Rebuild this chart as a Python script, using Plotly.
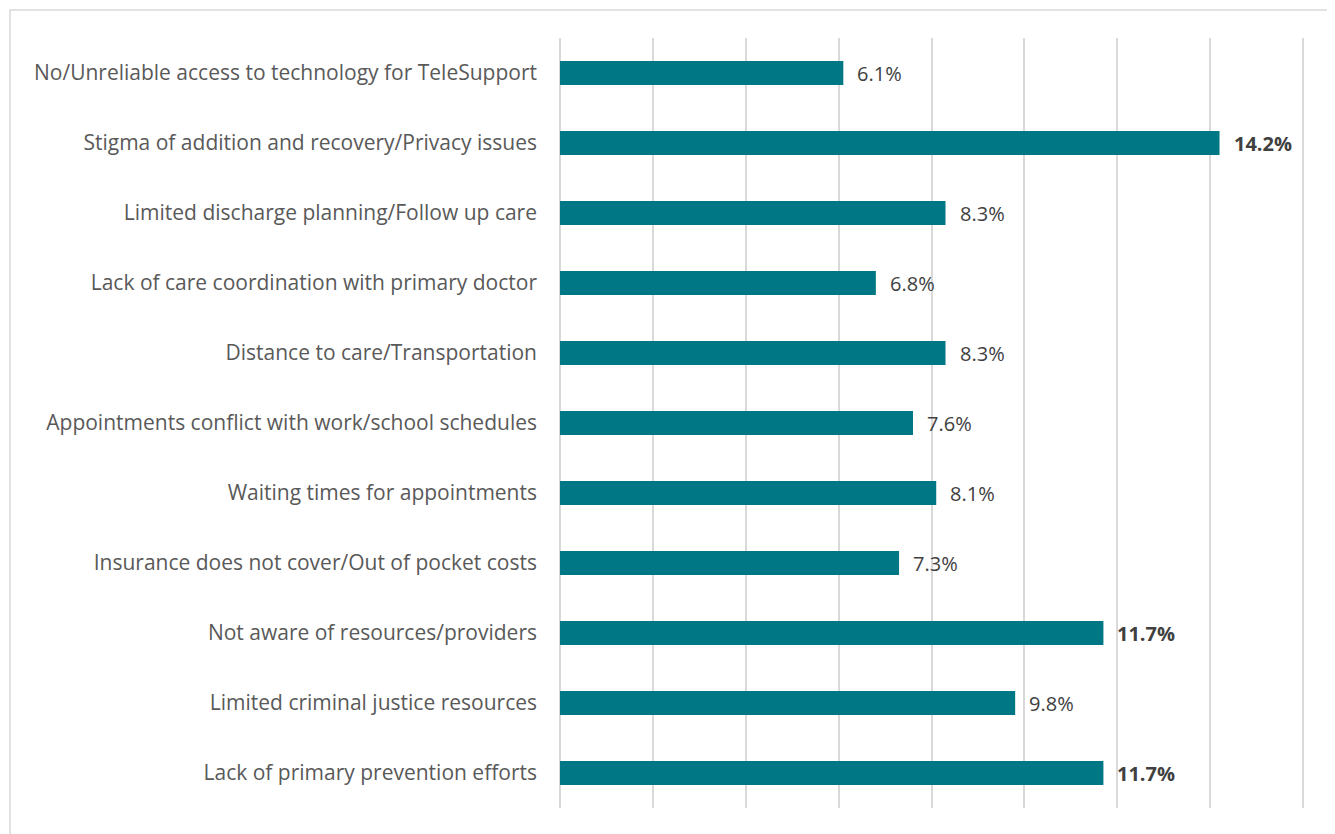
import plotly.graph_objects as go

# Barriers to care, top row first
categories = [
    "No/Unreliable access to technology for TeleSupport",
    "Stigma of addition and recovery/Privacy issues",
    "Limited discharge planning/Follow up care",
    "Lack of care coordination with primary doctor",
    "Distance to care/Transportation",
    "Appointments conflict with work/school schedules",
    "Waiting times for appointments",
    "Insurance does not cover/Out of pocket costs",
    "Not aware of resources/providers",
    "Limited criminal justice resources",
    "Lack of primary prevention efforts",
]
values = [6.1, 14.2, 8.3, 6.8, 8.3, 7.6, 8.1, 7.3, 11.7, 9.8, 11.7]
highlight = [False, True, False, False, False, False, False, False, True, False, True]

bar_color = "#007784"
text_color = "#595959"
grid_color = "#d9d9d9"

# page body adds an 8px offset, so the figure is sized to fit the window
W, H = 1327, 826
L, R, T, B = 552, 30, 30, 26
plot_w = W - L - R
plot_h = H - T - B

fig = go.Figure()
fig.add_trace(go.Bar(
    x=values, y=categories, orientation="h",
    marker=dict(color=bar_color, line=dict(width=0)),
    width=0.34, hoverinfo="x+y", showlegend=False,
))

for cat, val, bold in zip(categories, values, highlight):
    label = f"{val:.1f}%"
    fig.add_annotation(
        x=val, y=cat, xref="x", yref="y",
        text=f"<b>{label}</b>" if bold else label,
        showarrow=False, xanchor="left", xshift=12,
        font=dict(size=20, color="#404040"),
    )

# light frame around the chart
fig.add_shape(type="rect", xref="paper", yref="paper",
              x0=(2 - L) / plot_w, x1=(1322 - L) / plot_w,
              y0=-0.08, y1=1 + 28 / plot_h,
              line=dict(color=grid_color, width=1.5))

fig.update_layout(
    width=W, height=H,
    margin=dict(l=L, r=R, t=T, b=B),
    paper_bgcolor="white", plot_bgcolor="white",
    font=dict(family="Open Sans, Lato, sans-serif", size=21, color=text_color),
    xaxis=dict(range=[0, 16.04], tick0=0, dtick=2, showticklabels=False,
               showgrid=True, gridcolor=grid_color, gridwidth=1.5,
               zeroline=True, zerolinecolor=grid_color, zerolinewidth=1.5,
               fixedrange=True),
    yaxis=dict(autorange="reversed", showgrid=False, showline=False,
               ticks="", ticklabelstandoff=22, fixedrange=True),
)

fig.write_html("out.html")
